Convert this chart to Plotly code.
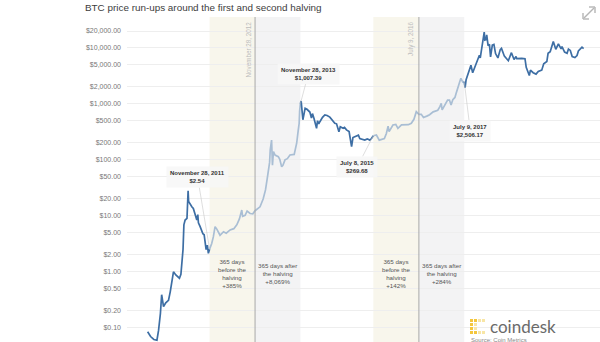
import numpy as np
import pandas as pd
import plotly.graph_objects as go

title = "BTC price run-ups around the first and second halving"

dates = [
    "2010-07-17","2010-08-10","2010-09-05","2010-09-30","2010-10-13","2010-10-28","2010-11-07","2010-11-22",
    "2010-12-10","2011-01-01","2011-01-15","2011-02-10","2011-03-01","2011-03-30","2011-04-11","2011-04-28",
    "2011-05-05","2011-05-15","2011-05-30","2011-06-08","2011-06-12","2011-06-19","2011-07-08","2011-07-20",
    "2011-08-03","2011-08-17","2011-08-25","2011-08-30","2011-09-12","2011-09-21","2011-10-05","2011-10-15",
    "2011-10-22","2011-10-31","2011-11-10","2011-11-18","2011-11-28",
    "2011-12-15","2011-12-28","2012-01-11","2012-01-25","2012-02-07","2012-02-20","2012-03-19","2012-04-10",
    "2012-05-11","2012-06-10","2012-07-04","2012-07-25","2012-08-13","2012-08-20","2012-09-09","2012-09-25",
    "2012-10-19","2012-11-10","2012-11-28","2012-12-20","2013-01-07","2013-02-01","2013-02-20","2013-03-05",
    "2013-03-25","2013-03-30","2013-04-10","2013-04-17","2013-04-25","2013-05-08","2013-06-03","2013-06-15",
    "2013-06-30","2013-07-10","2013-07-27","2013-08-15","2013-09-05","2013-10-09","2013-10-20","2013-10-29",
    "2013-11-10","2013-11-18","2013-11-22","2013-11-28",
    "2013-12-04","2013-12-18","2013-12-28","2014-01-05","2014-01-20","2014-02-12","2014-02-25","2014-03-05",
    "2014-03-17","2014-04-07","2014-04-15","2014-04-25","2014-05-04","2014-05-25","2014-06-13","2014-07-01",
    "2014-07-23","2014-08-15","2014-09-01","2014-09-15","2014-10-04","2014-10-15","2014-11-07","2014-11-18",
    "2014-12-04","2014-12-25","2015-01-14","2015-01-25","2015-02-15","2015-03-10","2015-03-21","2015-04-10",
    "2015-04-30","2015-05-20","2015-06-10","2015-06-23","2015-07-08",
    "2015-08-02","2015-08-25","2015-09-11","2015-10-05","2015-10-21","2015-11-04","2015-11-12","2015-12-13",
    "2016-01-05","2016-01-22","2016-02-20","2016-03-16","2016-04-15","2016-05-09","2016-05-30","2016-06-18",
    "2016-07-09","2016-07-28","2016-08-15","2016-09-15","2016-10-03","2016-11-01","2016-12-08","2016-12-25",
    "2017-01-05","2017-01-12","2017-01-31","2017-02-25","2017-03-12","2017-03-25","2017-04-08","2017-04-25",
    "2017-05-05","2017-05-25","2017-06-01","2017-06-12","2017-06-27","2017-07-09",
    "2017-07-16","2017-07-24","2017-08-05","2017-08-20","2017-09-01","2017-09-15","2017-10-01","2017-10-17",
    "2017-10-31","2017-11-08","2017-11-15","2017-11-28","2017-12-08","2017-12-17","2017-12-22","2017-12-31",
    "2018-01-06","2018-01-17","2018-01-28","2018-02-06","2018-02-20","2018-03-05","2018-03-18","2018-04-06",
    "2018-04-25","2018-05-05","2018-05-28","2018-06-12","2018-06-29","2018-07-24","2018-08-14","2018-08-30",
    "2018-09-05","2018-10-15","2018-11-10","2018-11-20","2018-12-15","2018-12-24","2019-01-15","2019-02-07",
    "2019-02-25","2019-03-25","2019-04-10","2019-05-05","2019-05-15","2019-06-01","2019-06-26","2019-07-16",
    "2019-08-06","2019-08-28","2019-09-04","2019-09-25","2019-10-15","2019-10-26","2019-11-10","2019-11-25",
    "2019-12-17","2020-01-03","2020-01-14","2020-02-12","2020-02-25",
]
prices = [
    0.085,0.07,0.062,0.06,0.09,0.18,0.39,0.24,
    0.28,0.31,0.44,1.00,0.88,0.77,0.90,2.5,
    6.9,8.4,9.0,28,18,16.7,14.5,13.5,
    11,8.4,10.5,7.5,6.5,5.6,4.8,4.6,
    3.3,2.5,3.0,2.14,2.54,
    3.2,4.2,6.4,5.8,4.9,4.5,5.2,4.9,
    5.6,5.9,6.9,8.8,12.7,9.8,10.2,12.2,
    11,10.9,12.35,13.5,14.5,20,29,45,
    90,150,226,80,140,122,114,102,
    75,80,100,105,122,125,160,198,
    330,450,750,1007.39,
    1120,520,720,834,800,714,560,670,
    553,366,500,440,480,575,632,620,
    580,500,450,440,318,390,366,380,
    343,320,172,250,259,275,240,235,
    226,237,225,240,269.68,
    278,225,230,240,296,400,320,419,
    430,366,420,419,425,450,530,725,
    650,650,570,610,640,720,770,890,
    1025,780,920,1170,1172,950,1190,1300,
    1550,2300,2400,2860,2450,2506.17,
    1950,2700,3200,4310,4900,3600,4400,5600,
    6400,7400,6600,9800,16000,19100,13800,14000,
    17100,11000,11500,6900,11200,11500,7900,6600,
    9300,9800,7100,6500,5900,8200,6200,7000,
    6400,6500,6400,4500,3200,4000,3600,3400,
    3800,4000,5200,5700,8000,8550,13000,9400,
    11800,9600,10500,8400,8000,9500,9000,7000,
    6700,7300,8800,10300,9700,
]

halving_dates = ["2012-11-28", "2016-07-09"]
halving_labels = ["November 28, 2012", "July 9, 2016"]
window_starts = ["2011-11-28", "2015-07-08"]
window_ends = ["2013-11-28", "2017-07-09"]
before_texts = ["365 days<br>before the<br>halving<br>+385%", "365 days<br>before the<br>halving<br>+142%"]
after_texts = ["365 days after<br>the halving<br>+8,069%", "365 days after<br>the halving<br>+284%"]

callout_dates = ["2011-11-28", "2013-11-28", "2015-07-08", "2017-07-09"]
callout_prices = [2.54, 1007.39, 269.68, 2506.17]
callout_texts = ["November 28, 2011<br>$2.54", "November 28, 2013<br>$1,007.39",
                 "July 8, 2015<br>$269.68", "July 9, 2017<br>$2,506.17"]
callout_offsets = [(-12, -72), (8, -30), (-16, 31), (6, 49)]

tick_vals = [0.05, 0.1, 0.2, 0.5, 1, 2, 5, 10, 20, 50, 100, 200, 500, 1000, 2000, 5000, 10000, 20000]
tick_text = ["${:,.2f}".format(v) for v in tick_vals]

DARK = "#3d6ea4"
LIGHT = "#a9bed4"
CREAM = "#f8f6ec"
GREY = "#f3f3f4"

df = pd.DataFrame({"d": pd.to_datetime(dates), "p": prices})

fig = go.Figure()

bounds = [df["d"].min()]
for s, e in zip(window_starts, window_ends):
    bounds += [pd.Timestamp(s), pd.Timestamp(e)]
bounds.append(df["d"].max())
for i in range(len(bounds) - 1):
    a, b = bounds[i], bounds[i + 1]
    seg = df[(df["d"] >= a) & (df["d"] <= b)]
    fig.add_trace(go.Scatter(x=seg["d"], y=seg["p"], mode="lines",
                             line=dict(color=LIGHT if i % 2 == 1 else DARK, width=1.7),
                             hoverinfo="skip", showlegend=False))

shapes = []
annotations = []
for k in range(2):
    h = pd.Timestamp(halving_dates[k])
    shapes.append(dict(type="rect", xref="x", yref="paper", x0=window_starts[k], x1=halving_dates[k],
                       y0=0, y1=1, fillcolor=CREAM, line=dict(width=0), layer="below"))
    shapes.append(dict(type="rect", xref="x", yref="paper", x0=halving_dates[k], x1=window_ends[k],
                       y0=0, y1=1, fillcolor=GREY, line=dict(width=0), layer="below"))
    shapes.append(dict(type="line", xref="x", yref="paper", x0=halving_dates[k], x1=halving_dates[k],
                       y0=0, y1=1, line=dict(color="#a8a8a8", width=1)))
    annotations.append(dict(x=halving_dates[k], y=1, xref="x", yref="paper", text=halving_labels[k],
                            textangle=-90, showarrow=False, xanchor="right", yanchor="top",
                            xshift=-2, yshift=-3, font=dict(size=6.3, color="#bdbdbd")))
    mid_b = pd.Timestamp(window_starts[k]) + (h - pd.Timestamp(window_starts[k])) / 2
    mid_a = h + (pd.Timestamp(window_ends[k]) - h) / 2
    annotations.append(dict(x=mid_b, y=np.log10(0.92), xref="x", yref="y", text=before_texts[k],
                            showarrow=False, yanchor="middle", font=dict(size=6.2, color="#555555")))
    annotations.append(dict(x=mid_a, y=np.log10(0.92), xref="x", yref="y", text=after_texts[k],
                            showarrow=False, yanchor="middle", font=dict(size=6.2, color="#555555")))

for d, p, t, (ax, ay) in zip(callout_dates, callout_prices, callout_texts, callout_offsets):
    annotations.append(dict(x=d, y=np.log10(p), xref="x", yref="y", text="<b>" + t + "</b>",
                            showarrow=True, arrowhead=0, arrowwidth=0.6, arrowcolor="#c8c8c8",
                            ax=ax, ay=ay, axref="pixel", ayref="pixel",
                            bgcolor="rgba(247,247,247,0.85)", borderpad=3,
                            font=dict(size=6, color="#333333")))


def px(xp):
    return (xp - 127) / 473


def py(yp):
    return (342 - yp) / 325


annotations.append(dict(x=px(83), y=py(7), xref="paper", yref="paper",
                        text=title, showarrow=False, xanchor="left", yanchor="middle",
                        font=dict(size=9.9, color="#3c3c3c")))

bright = "#f4c63d"
pale = "#f8e6a6"
cells = [(0, 0, bright), (0, 1, bright), (0, 2, bright), (0, 3, bright),
         (1, 0, bright), (2, 0, pale), (1, 3, bright), (2, 3, pale),
         (1, 1, pale), (1, 2, pale), (3, 0, pale), (3, 3, pale)]
for c, r, col in cells:
    x0 = 470 + c * 4
    y0 = 319 + r * 4
    shapes.append(dict(type="rect", xref="paper", yref="paper", x0=px(x0), x1=px(x0 + 3),
                       y0=py(y0 + 3), y1=py(y0), fillcolor=col, line=dict(width=0), layer="above"))
annotations.append(dict(x=px(488), y=py(326), xref="paper", yref="paper", text="coindesk",
                        showarrow=False, xanchor="left", yanchor="middle",
                        font=dict(size=17, color="#6a6a6a", family="Lato, sans-serif")))
annotations.append(dict(x=px(469), y=py(334.5), xref="paper", yref="paper", text="Source: Coin Metrics",
                        showarrow=False, xanchor="left", yanchor="top",
                        font=dict(size=6, color="#888888")))

for seg in [((584, 18), (594, 8)), ((589, 7), (595, 7)), ((595, 7), (595, 13)),
            ((583, 13), (583, 19)), ((583, 19), (589, 19))]:
    (xa, ya), (xb, yb) = seg
    shapes.append(dict(type="line", xref="paper", yref="paper", x0=px(xa), y0=py(ya),
                       x1=px(xb), y1=py(yb), line=dict(color="#b5b5b5", width=1.4), layer="above"))

fig.update_layout(
    width=600, height=342,
    margin=dict(l=127, r=0, t=17, b=0),
    paper_bgcolor="white", plot_bgcolor="white",
    font=dict(family="Liberation Sans, Arial, sans-serif"),
    xaxis=dict(type="date", range=["2010-02-01", "2020-07-06"], showgrid=False,
               showticklabels=False, zeroline=False, showline=False, ticks=""),
    yaxis=dict(type="log", range=[-1.253, 4.551], tickvals=tick_vals, ticktext=tick_text,
               showgrid=True, gridcolor="#eeeeee", gridwidth=1, zeroline=False, showline=False,
               ticks="", tickfont=dict(size=7, color="#777777"), ticklabelstandoff=5),
    shapes=shapes,
    annotations=annotations,
)
fig.write_html("out.html")
